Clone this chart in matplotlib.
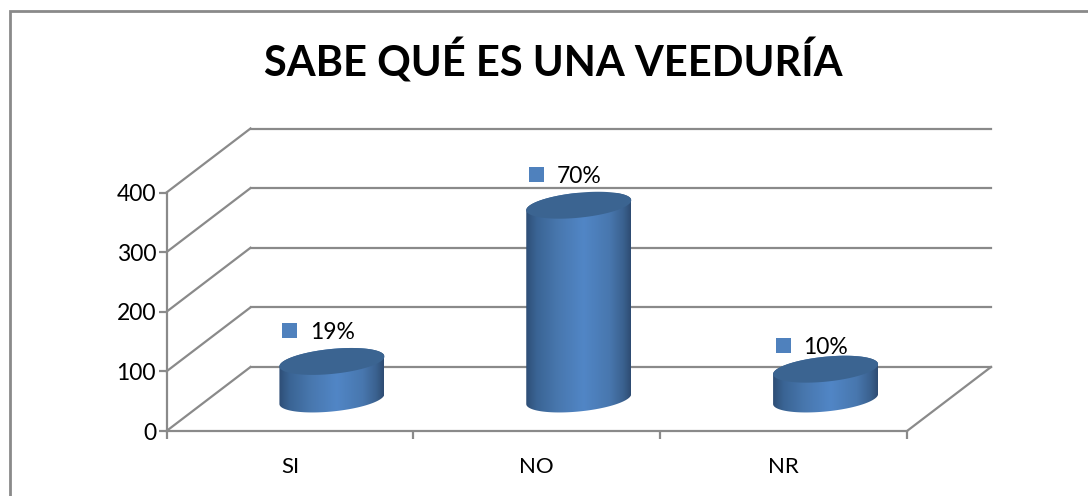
#!/usr/bin/env python3
"""sabe que es una veeduria"""

import matplotlib

matplotlib.use("Agg")
import matplotlib.pyplot as plt
import numpy as np
from matplotlib.colors import LinearSegmentedColormap
from matplotlib.patches import PathPatch, Rectangle
from matplotlib.path import Path
from matplotlib.transforms import Affine2D

title = "SABE QUÉ ES UNA VEEDURÍA"
categories = ["SI", "NO", "NR"]
values = [63, 325, 50]
percents = ["19%", "70%", "10%"]
y_ticks = [0, 100, 200, 300, 400]

W, H = 1088, 496
LINE = "#8a8a8a"
TOP = "#3b6491"
SQUARE = "#4f81bd"
DEPTH_X, DEPTH_Y = 84, 64  # floor depth in pixels
BAR_A, BAR_B, BAR_TILT = 52.5, 12.5, 0.095


def main() -> None:
    plt.rcParams["font.family"] = ["Lato", "DejaVu Sans"]
    fig = plt.figure(figsize=(W / 100, H / 100), dpi=100)

    # frame runs off the picture on the right and bottom
    fig.add_artist(Rectangle((10 / W, -0.1), 1.2, 1 - 10.5 / H + 0.1, transform=fig.transFigure,
                             fill=False, ec=LINE, lw=2.0))
    fig.text(553 / W, 1 - 61 / H, title, fontsize=30, fontweight="bold", ha="center", va="center")

    left, right, top, bottom = 166.5, 907, 192.5, 431
    ax = fig.add_axes([left / W, 1 - bottom / H, (right - left) / W, (bottom - top) / H])
    ax.set_xlim(0, 3)
    ax.set_ylim(0, 400)
    ax.patch.set_alpha(0)
    for s in ["top", "right"]:
        ax.spines[s].set_visible(False)
    for s in ["left", "bottom"]:
        ax.spines[s].set_color(LINE)
        ax.spines[s].set_linewidth(1.6)

    ax.set_yticks(y_ticks)
    ax.tick_params(axis="y", color=LINE, width=1.6, length=6, labelsize=16.5, pad=1.5)
    ax.set_xticks(range(4), [""] * 4)
    ax.tick_params(axis="x", color=LINE, width=1.6, length=6)
    ax.set_xticks(np.arange(3) + 0.5, categories, minor=True)
    ax.tick_params(axis="x", which="minor", length=0, labelsize=16, pad=19)

    back = ax.transData + Affine2D().translate(DEPTH_X, DEPTH_Y)
    mid = ax.transData + Affine2D().translate(DEPTH_X / 2, DEPTH_Y / 2)

    # side wall, back wall and floor edge
    for v in y_ticks:
        ax.plot([0, 3], [v, v], color=LINE, lw=1.6, transform=back, clip_on=False, zorder=1)
        a = ax.transData.transform((0, v))
        ax.plot([a[0], a[0] + DEPTH_X], [a[1], a[1] + DEPTH_Y], color=LINE, lw=1.6,
                transform=None, clip_on=False, zorder=1)
    a = ax.transData.transform((3, 0))
    ax.plot([a[0], a[0] + DEPTH_X], [a[1], a[1] + DEPTH_Y], color=LINE, lw=1.6,
            transform=None, clip_on=False, zorder=1)

    px_x = 3 / (right - left)
    px_y = 400 / (bottom - top)
    cmap = LinearSegmentedColormap.from_list(
        "cyl",
        [(0, "#2e4e76"), (0.1, "#3a6494"), (0.3, "#4877ae"), (0.55, "#5186c6"),
         (0.8, "#4877ae"), (0.93, "#3a618f"), (1, "#2e4c72")],
    )
    grad = np.linspace(0, 1, 256).reshape(1, -1)
    lifts = [31, 31, 24]

    for i, (v, p, lift) in enumerate(zip(values, percents, lifts)):
        c = i + 0.5

        def ring(h, t):
            xs = c + BAR_A * np.cos(t) * px_x
            ys = h + (BAR_TILT * BAR_A * np.cos(t) + BAR_B * np.sin(t)) * px_y
            return np.column_stack([xs, ys])

        lower = ring(0, np.linspace(np.pi, 2 * np.pi, 80))
        upper = ring(v, np.linspace(0, np.pi, 80))
        body = Path(np.vstack([lower, upper, lower[:1]]), closed=True)
        im = ax.imshow(grad, cmap=cmap, aspect="auto", zorder=3, interpolation="bilinear",
                       extent=[c - BAR_A * px_x, c + BAR_A * px_x, -40, v + 40],
                       transform=mid, clip_on=True)
        im.set_clip_path(PathPatch(body, transform=mid))
        cap = ring(v, np.linspace(0, 2 * np.pi, 160))
        ax.add_patch(PathPatch(Path(cap, closed=True), fc=TOP, ec="none", transform=mid,
                               zorder=4, clip_on=False))

        # percent label with its legend key
        base = ax.transData.transform((c, v))
        sx, sy = base[0] + DEPTH_X / 2 - 43, base[1] + DEPTH_Y / 2 + lift
        ax.plot([sx], [sy], "s", ms=10.8, color=SQUARE, mew=0, transform=None, clip_on=False, zorder=5)
        ax.text(sx + 21, sy - 2, p, fontsize=16.5, ha="left", va="center", transform=None, zorder=5)

    ax.set_xlim(0, 3)
    ax.set_ylim(0, 400)
    fig.savefig("out.png", dpi=100)


if __name__ == "__main__":
    main()
